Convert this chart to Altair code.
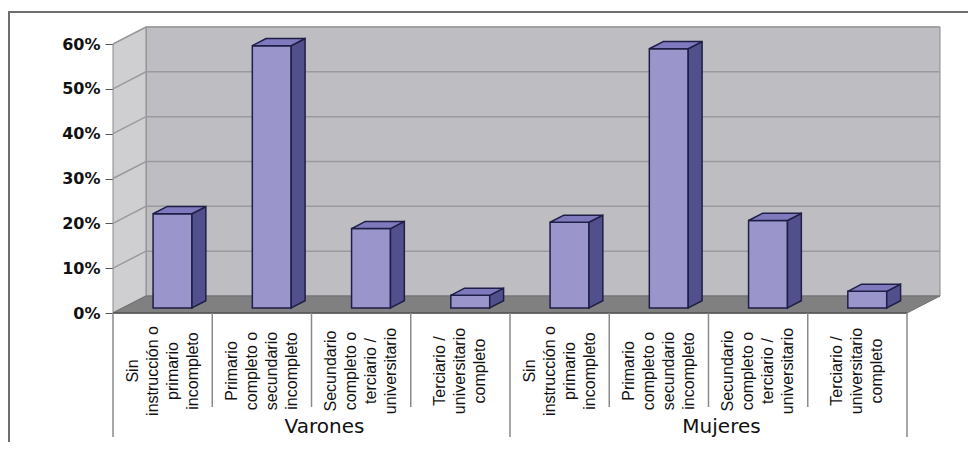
import altair as alt
import pandas as pd

# ---------------- data ----------------
groups = ["Varones", "Mujeres"]
levels = [
    "Sin\ninstrucción o\nprimario\nincompleto",
    "Primario\ncompleto o\nsecundario\nincompleto",
    "Secundario\ncompleto o\nterciario /\nuniversitario",
    "Terciario /\nuniversitario\ncompleto",
]
varones = [0.21, 0.585, 0.177, 0.028]
mujeres = [0.191, 0.578, 0.195, 0.037]
y_ticks = [0, 0.1, 0.2, 0.3, 0.4, 0.5, 0.6]

# ---------------- geometry (style) ----------------
W, H = 827, 286
PAD_L, PAD_T, PAD_R, PAD_B = 105, 19, 28, 129
N = len(groups) * len(levels)
Y_TOP = y_ticks[-1]
DX = 33 / (794 / N)          # depth offset in x units
DY = 17 * Y_TOP / 269        # depth offset in y units
XMAX = N + DX
YMAX = Y_TOP + DY
UNIT = W / XMAX              # px per x unit
BAR_HALF = 0.196
FRONT, BACK = 0.3, 0.72
ddx, ddy = (BACK - FRONT) * DX, (BACK - FRONT) * DY
LH = 20                      # label line spacing (px)

FONT = "DejaVu Sans"
LFONT = "Liberation Sans"
xs = alt.Scale(domain=[0, XMAX], nice=False, zero=False)
ys = alt.Scale(domain=[0, YMAX], nice=False, zero=False)
Y_AXIS = alt.Axis(values=y_ticks, format=".0%", labelFont=FONT, labelFontWeight="bold",
                  labelFontSize=16, labelColor="#111111", tickColor="#555555", tickSize=8,
                  domain=False, grid=False, labelPadding=5, title=None)
NOAX = None

# bars
values = varones + mujeres
front_rows, side_rows, top_rows = [], [], []
for i, v in enumerate(values):
    cx = i + 0.5 + FRONT * DX
    xl, xr = cx - BAR_HALF, cx + BAR_HALF
    yb, yt = FRONT * DY, v + FRONT * DY
    front_rows.append(dict(bar=i, x=xl, x2=xr, y=yb, y2=yt))
    side_rows += [dict(bar=i, x=xr, y=yb, y2=yt),
                  dict(bar=i, x=xr + ddx, y=yb + ddy, y2=yt + ddy)]
    top_rows += [dict(bar=i, y=yt, x=xl, x2=xr),
                 dict(bar=i, y=yt + ddy, x=xl + ddx, x2=xr + ddx)]
front_df = pd.DataFrame(front_rows)
side_df = pd.DataFrame(side_rows)
top_df = pd.DataFrame(top_rows)

grid_rows = []
for t in y_ticks:
    grid_rows += [dict(t=t, o=0, x=0, y=t), dict(t=t, o=1, x=DX, y=t + DY),
                  dict(t=t, o=2, x=N + DX, y=t + DY)]
grid_df = pd.DataFrame(grid_rows)

back_df = pd.DataFrame([dict(x=DX, x2=N + DX, y=DY, y2=YMAX)])
sidewall_df = pd.DataFrame([dict(x=0, y=0, y2=Y_TOP), dict(x=DX, y=DY, y2=Y_TOP + DY)])
floor_df = pd.DataFrame([dict(y=0, x=0, x2=N), dict(y=DY, x=DX, x2=N + DX)])

label_rows = []
for i in range(N):
    lines = levels[i % len(levels)].split("\n")
    n = len(lines)
    for k, ln in enumerate(lines):
        label_rows.append(dict(key=f"{i}-{k}", line=ln,
                               x=i + 0.5 + (k - (n - 1) / 2) * LH / UNIT))
labels_df = pd.DataFrame(label_rows)
group_df = pd.DataFrame([dict(x=g * len(levels) + len(levels) / 2, label=groups[g])
                         for g in range(len(groups))])
inner_div = pd.DataFrame([dict(x=k) for k in range(N + 1) if k % len(levels) != 0])
group_div = pd.DataFrame([dict(x=k) for k in range(N + 1) if k % len(levels) == 0])

# ---------------- layers ----------------
back = alt.Chart(back_df).mark_rect(fill="#BEBEC2", stroke="#8A8A8A", strokeWidth=1).encode(
    x=alt.X("x:Q", scale=xs, axis=NOAX), x2="x2:Q",
    y=alt.Y("y:Q", scale=ys, axis=Y_AXIS), y2="y2:Q")

sidewall = alt.Chart(sidewall_df).mark_area(fill="#CFCFD1", stroke="#8A8A8A", strokeWidth=1,
                                            orient="vertical").encode(
    x=alt.X("x:Q", scale=xs, axis=NOAX),
    y=alt.Y("y:Q", scale=ys, axis=Y_AXIS), y2="y2:Q")

grid = alt.Chart(grid_df).mark_line(color="#9A9A9E", strokeWidth=1.5).encode(
    x=alt.X("x:Q", scale=xs, axis=NOAX),
    y=alt.Y("y:Q", scale=ys, axis=Y_AXIS),
    detail="t:N", order="o:Q")

floor = alt.Chart(floor_df).mark_area(fill="#808080", stroke="#707070", strokeWidth=1,
                                      orient="horizontal").encode(
    y=alt.Y("y:Q", scale=ys, axis=Y_AXIS),
    x=alt.X("x:Q", scale=xs, axis=NOAX), x2="x2:Q")

front = alt.Chart(front_df).mark_rect(fill="#9A96CC", stroke="#1E1E46", strokeWidth=1.5).encode(
    x=alt.X("x:Q", scale=xs, axis=NOAX), x2="x2:Q",
    y=alt.Y("y:Q", scale=ys, axis=Y_AXIS), y2="y2:Q")

side = alt.Chart(side_df).mark_area(fill="#52508C", stroke="#1E1E46", strokeWidth=1.5,
                                    orient="vertical").encode(
    x=alt.X("x:Q", scale=xs, axis=NOAX),
    y=alt.Y("y:Q", scale=ys, axis=Y_AXIS), y2="y2:Q", detail="bar:N")

top = alt.Chart(top_df).mark_area(fill="#7E7ABD", stroke="#1E1E46", strokeWidth=1.5,
                                  orient="horizontal").encode(
    y=alt.Y("y:Q", scale=ys, axis=Y_AXIS),
    x=alt.X("x:Q", scale=xs, axis=NOAX), x2="x2:Q", detail="bar:N")

div_in = alt.Chart(inner_div).mark_rule(color="#8A8A8A", strokeWidth=1.5).encode(
    x=alt.X("x:Q", scale=xs, axis=NOAX), y=alt.value(H), y2=alt.value(H + 94))
div_gr = alt.Chart(group_div).mark_rule(color="#8A8A8A", strokeWidth=1.5).encode(
    x=alt.X("x:Q", scale=xs, axis=NOAX), y=alt.value(H), y2=alt.value(H + 124))
front_edge = alt.Chart(floor_df.head(1)).mark_rule(color="#555555", strokeWidth=1.5).encode(
    x=alt.X("x:Q", scale=xs, axis=NOAX), x2="x2:Q", y=alt.value(H))

cat_text = alt.Chart(labels_df).mark_text(angle=270, align="center", baseline="middle",
                                          font=LFONT, fontSize=16, color="#111111").encode(
    x=alt.X("x:Q", scale=xs, axis=NOAX), y=alt.value(H + 58), text="line:N",
    detail="key:N")

grp_text = alt.Chart(group_df).mark_text(align="center", baseline="middle", dx=13,
                                         font=FONT, fontSize=20, color="#111111").encode(
    x=alt.X("x:Q", scale=xs, axis=NOAX), y=alt.value(H + 114), text="label:N")

frame_top = alt.Chart(group_df.head(1)).mark_rule(color="#6E6E6E", strokeWidth=2).encode(
    x=alt.value(-PAD_L), x2=alt.value(W + PAD_R), y=alt.value(-15))
frame_left = alt.Chart(group_df.head(1)).mark_rule(color="#6E6E6E", strokeWidth=2).encode(
    x=alt.value(-PAD_L + 1), y=alt.value(-15), y2=alt.value(H + PAD_B))

chart = alt.layer(
    back, sidewall, grid, floor, front, side, top, front_edge,
    div_in, div_gr, cat_text, grp_text, frame_top, frame_left
).properties(
    width=W, height=H,
    autosize=alt.AutoSizeParams(type="none"),
    padding={"left": PAD_L, "top": PAD_T, "right": PAD_R, "bottom": PAD_B},
    background="white",
).configure_view(stroke=None)

chart.save("out.html", embed_options={"renderer": "svg", "actions": False})
